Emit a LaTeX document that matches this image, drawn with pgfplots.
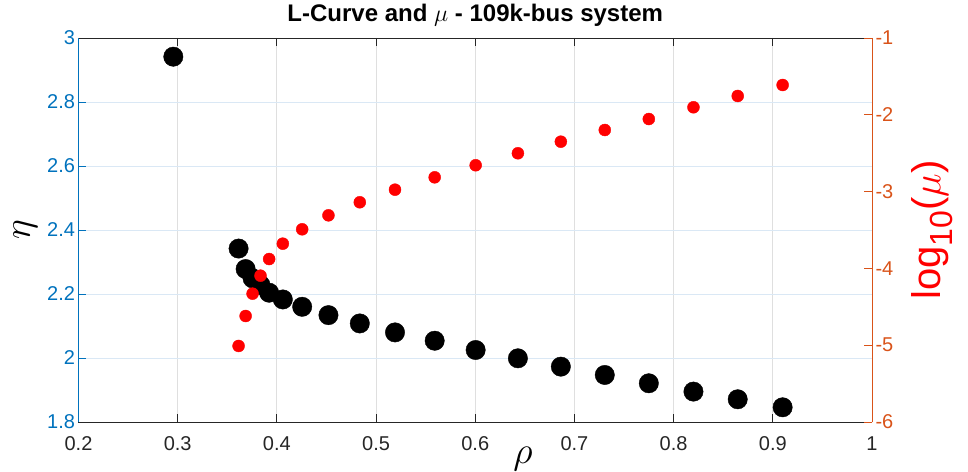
\RequirePackage{fix-cm}
\documentclass[border=0pt]{standalone}
\usepackage{fontspec}
\setmainfont{Liberation Sans}
\usepackage{pgfplots}
\usepackage{pgfplotstable}
\pgfplotsset{compat=1.18}
\definecolor{blueax}{RGB}{0,114,189}
\definecolor{orangeax}{RGB}{217,83,25}
\definecolor{axgray}{RGB}{38,38,38}
\definecolor{gridx}{RGB}{223,223,223}
\definecolor{gridy}{RGB}{218,232,245}

\pgfplotstableread{
rho eta
0.2956 2.9416
0.3614 2.342
0.3685 2.278
0.3755 2.249
0.3835 2.228
0.3922 2.204
0.4060 2.183
0.4255 2.160
0.4520 2.134
0.4836 2.108
0.5191 2.080
0.5591 2.054
0.6004 2.025
0.6430 1.999
0.6863 1.973
0.7306 1.947
0.7750 1.921
0.8200 1.895
0.8646 1.871
0.9099 1.846
}\etatable

\pgfplotstableread{
rho logmu
0.3614 -5.010
0.3685 -4.620
0.3755 -4.329
0.3835 -4.095
0.3922 -3.878
0.4060 -3.678
0.4255 -3.491
0.4520 -3.309
0.4836 -3.139
0.5191 -2.975
0.5591 -2.814
0.6004 -2.657
0.6430 -2.501
0.6863 -2.350
0.7306 -2.198
0.7750 -2.055
0.8200 -1.902
0.8646 -1.755
0.9099 -1.612
}\mutable

\pgfplotsset{
  common/.style={
    scale only axis, width=793.5bp, height=384bp,
    at={(0,0)}, anchor=south west,
    xmin=0.2, xmax=1,
    tick align=inside,
    major tick length=8bp,
    /pgf/number format/assume math mode=true,
    tick label style={font=\fontsize{20bp}{23bp}\selectfont},
  }
}

\begin{document}
\begin{tikzpicture}
\useasboundingbox (-78.5bp,-50bp) rectangle (889.5bp,422bp);
\begin{axis}[
  common,
  ymin=1.8, ymax=3,
  xtick={0.2,0.3,0.4,0.5,0.6,0.7,0.8,0.9,1},
  ytick={1.8,2,2.2,2.4,2.6,2.8,3},
  axis x line*=box, axis y line*=left,
  x axis line style={axgray, line width=0.8bp},
  y axis line style={blueax, line width=0.8bp},
  x tick style={axgray, line width=0.8bp},
  y tick style={blueax, line width=0.8bp},
  xticklabel style={axgray, anchor=base, yshift=-28bp},
  yticklabel style={blueax},
  xmajorgrids, ymajorgrids,
  x grid style={gridx, line width=0.8bp},
  y grid style={gridy, line width=0.8bp},
  title={L-Curve and $\mu$ - 109k-bus system},
  title style={font=\fontsize{24bp}{27bp}\selectfont\bfseries, at={(axis description cs:0.5,1)}, anchor=base, yshift=10.3bp},
  xlabel={$\rho$},
  xlabel style={font=\fontsize{38bp}{40bp}\selectfont, at={(axis description cs:0.56,0)}, anchor=base, yshift=-41.4bp},
  ylabel={$\eta$},
  ylabel style={font=\fontsize{38bp}{40bp}\selectfont, at={(axis description cs:0,0.5)}, yshift=53bp, anchor=center, inner sep=0pt},
]
\addplot[only marks, mark=*, mark size=9.7bp, black] table[x=rho, y=eta] {\etatable};
\end{axis}
\begin{axis}[
  common,
  ymin=-6, ymax=-1,
  ytick={-6,-5,-4,-3,-2,-1},
  xtick=\empty,
  axis x line=none, axis y line*=right,
  y axis line style={orangeax, line width=0.8bp},
  y tick style={orangeax, line width=0.8bp},
  yticklabel style={orangeax},
  ylabel={log\raisebox{-0.3em}{\fontsize{32bp}{34bp}\selectfont 10}($\mu$)},
  ylabel style={red, font=\fontsize{40bp}{44bp}\selectfont, at={(axis description cs:1,0.5)}, yshift=-60bp, anchor=center, inner sep=0pt},
]
\addplot[only marks, mark=*, mark size=6bp, red] table[x=rho, y=logmu] {\mutable};
\end{axis}
\end{tikzpicture}
\end{document}
